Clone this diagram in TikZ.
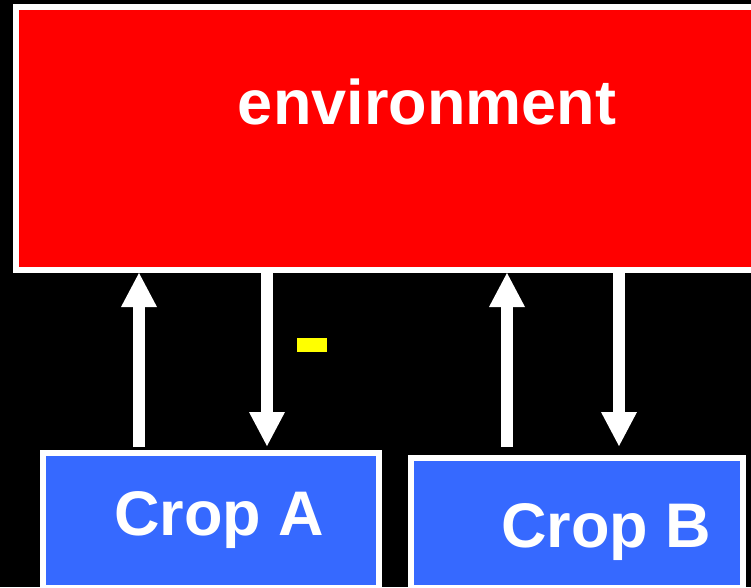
\documentclass[tikz,border=0pt]{standalone}
\usepackage{fontspec}
\setmainfont{Liberation Sans}
\usetikzlibrary{arrows.meta}
\definecolor{envred}{HTML}{FF0000}
\definecolor{cropblue}{HTML}{3669FF}
\definecolor{markyellow}{HTML}{FFFF00}
\begin{document}
\begin{tikzpicture}[x=1pt,y=-1pt,
  box/.style={draw=white,line width=6pt,inner sep=0pt},
  envbox/.style={box,fill=envred},
  cropbox/.style={box,fill=cropblue},
  word/.style={text=white,font=\fontsize{63}{63}\selectfont\bfseries,inner sep=0pt,anchor=base},
  flow/.style={draw=white,line width=12pt,-{Triangle[width=36pt,length=34pt,line width=0pt]}},
]
% black page
\fill[black] (0,0) rectangle (751,587);
\useasboundingbox (0,0) rectangle (751,587);

% boxes
\node[envbox,minimum width=744pt,minimum height=263pt] (env) at (388,138.5) {};
\node[cropbox,minimum width=336pt,minimum height=135pt] (cropA) at (211,520.5) {};
\node[cropbox,minimum width=332pt,minimum height=130pt] (cropB) at (577,523) {};

% labels
\node[word] (envtext) at (427,124) {environment};
\node[word] (cropAtext) at (219,535) {Crop A};
\node[word] (cropBtext) at (606,547) {Crop B};

% yellow minus mark
\node[fill=markyellow,minimum width=30pt,minimum height=14pt,inner sep=0pt] (minus) at (312,345) {};

% arrow columns
\coordinate (ua) at (139,0);
\coordinate (da) at (267,0);
\coordinate (ub) at (507,0);
\coordinate (db) at (619,0);

\draw[flow,shorten <=3pt] (cropA.north -| ua) -- (env.south -| ua);
\draw[flow,shorten >=4pt] (env.south -| da) -- (cropA.north -| da);
\draw[flow,shorten <=8pt] (cropB.north -| ub) -- (env.south -| ub);
\draw[flow,shorten >=9pt] (env.south -| db) -- (cropB.north -| db);
\end{tikzpicture}
\end{document}
